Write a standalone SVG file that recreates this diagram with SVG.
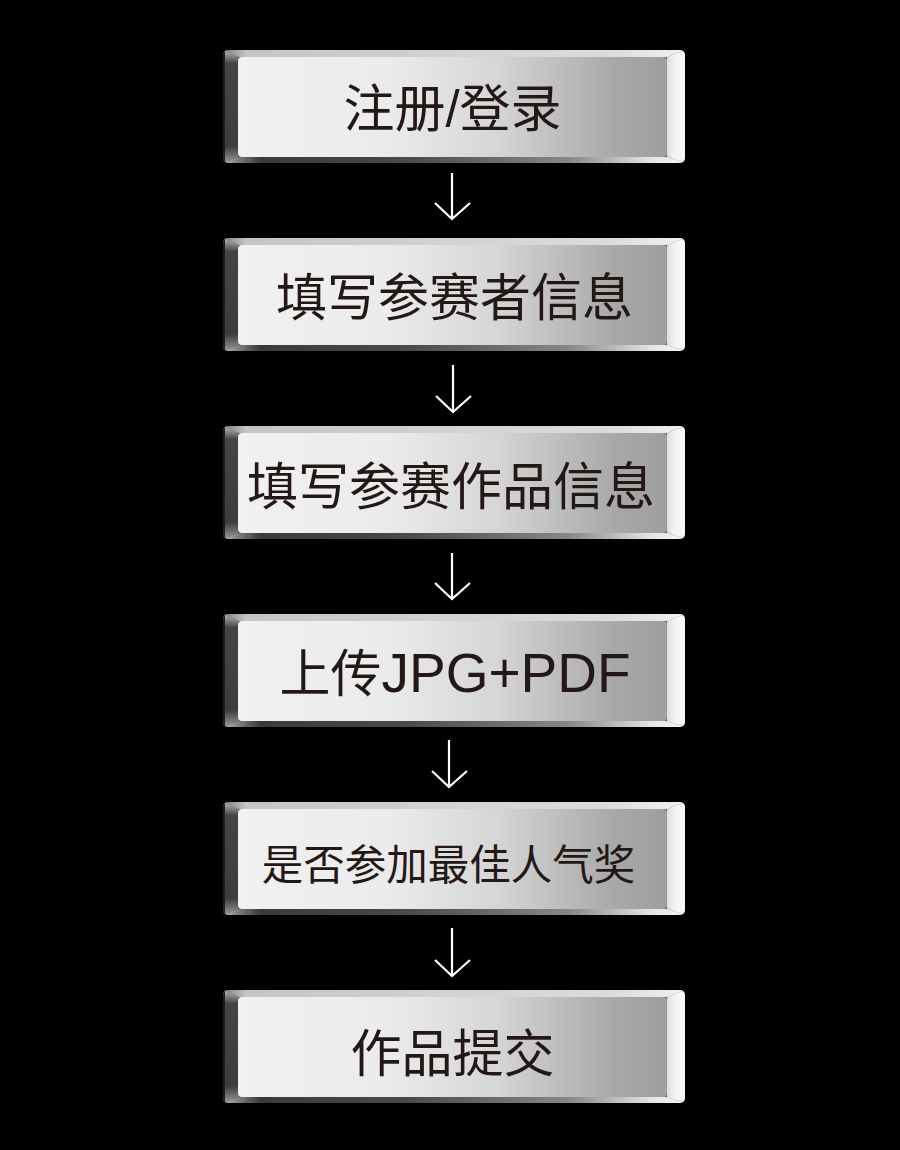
<svg xmlns="http://www.w3.org/2000/svg" xmlns:xlink="http://www.w3.org/1999/xlink" width="900" height="1150" viewBox="0 0 900 1150">
<defs>
<linearGradient id="gFace" x1="0" y1="0" x2="1" y2="0">
<stop offset="0" stop-color="#f1f1f1"/>
<stop offset="0.35" stop-color="#ebebeb"/>
<stop offset="0.6" stop-color="#d6d6d6"/>
<stop offset="0.88" stop-color="#a8a8a8"/>
<stop offset="1" stop-color="#9e9e9e"/>
</linearGradient>
<linearGradient id="gTop" x1="0" y1="0" x2="1" y2="0">
<stop offset="0" stop-color="#7a7a7a"/>
<stop offset="0.05" stop-color="#c4c4c4"/>
<stop offset="0.5" stop-color="#d2d2d2"/>
<stop offset="0.85" stop-color="#dcdcdc"/>
<stop offset="1" stop-color="#f2f2f2"/>
</linearGradient>
<linearGradient id="gBottom" x1="0" y1="0" x2="1" y2="0">
<stop offset="0" stop-color="#b0b0b0"/>
<stop offset="0.08" stop-color="#3a3a3a"/>
<stop offset="0.4" stop-color="#4a4a4a"/>
<stop offset="0.75" stop-color="#888"/>
<stop offset="0.93" stop-color="#e6e6e6"/>
<stop offset="1" stop-color="#f4f4f4"/>
</linearGradient>
<linearGradient id="gLeft" x1="0" y1="0" x2="0" y2="1">
<stop offset="0" stop-color="#bcbcbc"/>
<stop offset="0.12" stop-color="#444"/>
<stop offset="0.85" stop-color="#3c3c3c"/>
<stop offset="1" stop-color="#9a9a9a"/>
</linearGradient>
<linearGradient id="gRight" x1="0" y1="0" x2="1" y2="0">
<stop offset="0" stop-color="#dcdcdc"/>
<stop offset="0.4" stop-color="#f2f2f2"/>
<stop offset="1" stop-color="#fafafa"/>
</linearGradient>
<clipPath id="cOuter">
<rect x="223" y="0" width="462" height="113" rx="5"/>
</clipPath>
<g id="btn">
<g clip-path="url(#cOuter)">
<rect x="223" y="0" width="462" height="113" fill="#555"/>
<polygon points="223,0 685,0 667,7 238,7" fill="url(#gTop)"/>
<polygon points="685,0 685,113 667,107 667,7" fill="url(#gRight)"/>
<polygon points="223,113 685,113 667,107 238,107" fill="url(#gBottom)"/>
<polygon points="223,0 238,7 238,107 223,113" fill="url(#gLeft)"/>
<rect x="223" y="0" width="2" height="113" fill="#1e1e1e"/>
</g>
<rect x="238" y="7" width="429" height="100" rx="4" fill="url(#gFace)"/>
</g>
</defs>
<style>
.lbl{font-family:"Liberation Sans","Noto Sans CJK SC",sans-serif;fill:#231815;text-anchor:middle;font-size:51px}
.conn{fill:none;stroke:#ffffff;stroke-width:2.2}
</style>
<rect width="900" height="1150" fill="#000"/>
<g id="connectors">
<path class="conn" d="M452,173 V219 M435,203 L452,219 L470,203"/>
<path class="conn" d="M453,365 V412 M436,396 L453,412 L471,396"/>
<path class="conn" d="M452,553 V599 M435,583 L452,599 L470,583"/>
<path class="conn" d="M449,740 V787 M432,771 L449,787 L467,771"/>
<path class="conn" d="M452,928 V976 M435,960 L452,976 L470,960"/>
</g>
<g id="node1">
<use xlink:href="#btn" y="50"/>
<text class="lbl" x="452.5" y="126.5">注册/登录</text>
</g>
<g id="node2">
<use xlink:href="#btn" y="238"/>
<text class="lbl" x="454.5" y="315.5">填写参赛者信息</text>
</g>
<g id="node3">
<use xlink:href="#btn" y="426"/>
<text class="lbl" x="451" y="504.5">填写参赛作品信息</text>
</g>
<g id="node4">
<use xlink:href="#btn" y="614"/>
<text class="lbl" x="455" y="691.5">上传<tspan font-size="55">JPG+PDF</tspan></text>
</g>
<g id="node5">
<use xlink:href="#btn" y="802"/>
<text class="lbl" x="448.5" y="880" style="font-size:41.5px">是否参加最佳人气奖</text>
</g>
<g id="node6">
<use xlink:href="#btn" y="990"/>
<text class="lbl" x="452.5" y="1071.5">作品提交</text>
</g>
</svg>
